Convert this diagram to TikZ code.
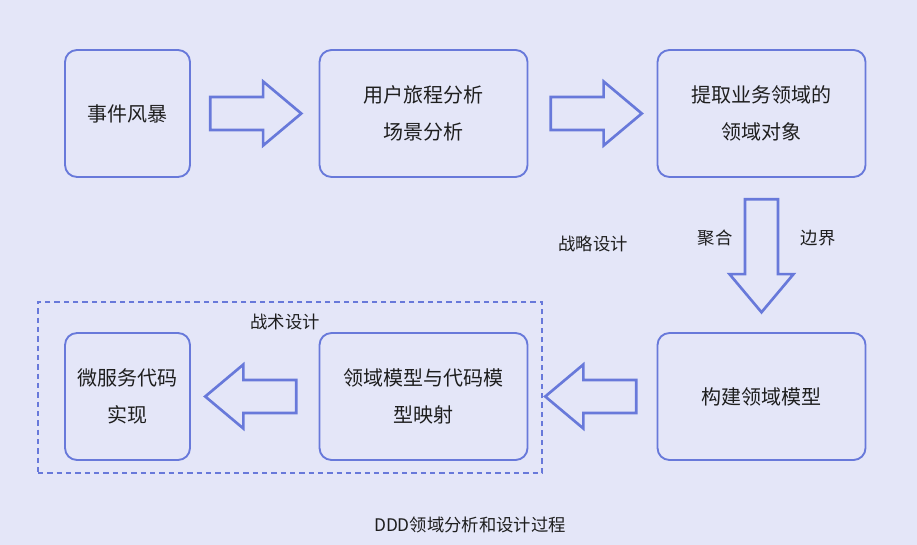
\documentclass[tikz,border=0pt]{standalone}
\usepackage{fontspec}
\newfontfamily\cjk{Noto Sans CJK SC}
\usetikzlibrary{shapes.arrows,calc}
\definecolor{bgpaper}{RGB}{228,230,248}
\definecolor{penblue}{RGB}{104,121,218}
\definecolor{ink}{RGB}{30,30,30}
\begin{document}
\begin{tikzpicture}[x=0.75pt,y=-0.75pt,
  box/.style={draw=penblue, line width=1.4pt, rounded corners=9pt, align=center,
    minimum height=95.25pt, text=ink, font=\cjk\fontsize{15}{28}\selectfont},
  narrowbox/.style={box, minimum width=93.75pt},
  widebox/.style={box, minimum width=156pt},
  fatarrow/.style={single arrow, draw=penblue, line width=2pt, inner sep=11.4pt,
    minimum height=68.25pt, minimum width=46.5pt, single arrow head extend=11.6pt,
    single arrow tip angle=80, anchor=tail},
  tag/.style={text=ink, font=\cjk\fontsize{13}{16}\selectfont}]
\fill[bgpaper] (0,0) rectangle (917,545);
% top row
\node[narrowbox] (storm) at (127.5,113.5) {事件风暴};
\node[widebox] (journey) at (423.5,113.5) {用户旅程分析\\场景分析};
\node[widebox] (objects) at (761.5,113.5) {提取业务领域的\\领域对象};
% bottom row
\node[widebox] (build) at (761.5,396.5) {构建领域模型};
\node[widebox] (mapping) at (423.5,396.5) {领域模型与代码模\\型映射};
\node[narrowbox] (micro) at (127.5,396.5) {微服务代码\\实现};
% tactical frame
\node[draw=penblue, line width=2.2pt, dash pattern=on 4pt off 3pt,
  minimum width=378pt, minimum height=128.25pt] (tactic) at (290,387.5) {};
% block arrows
\node[fatarrow] (a1) at ($(storm.east)+(18,0)$) {};
\node[fatarrow] (a2) at ($(journey.east)+(21,0)$) {};
\node[fatarrow, shape border rotate=270, minimum height=84.75pt] (a3) at ($(objects.south)+(0,20)$) {};
\node[fatarrow, shape border rotate=180] (a4) at ($(build.west)+(-19,0)$) {};
\node[fatarrow, shape border rotate=180] (a5) at ($(mapping.west)+(-21,0)$) {};
% labels
\node[tag] (strategic) at (593,244) {战略设计};
\node[tag] (aggr) at (715,238) {聚合};
\node[tag] (bound) at (818,238) {边界};
\node[tag] (tactical) at (285,322) {战术设计};
\node[tag] (caption) at (470,525) {DDD领域分析和设计过程};
\end{tikzpicture}
\end{document}
